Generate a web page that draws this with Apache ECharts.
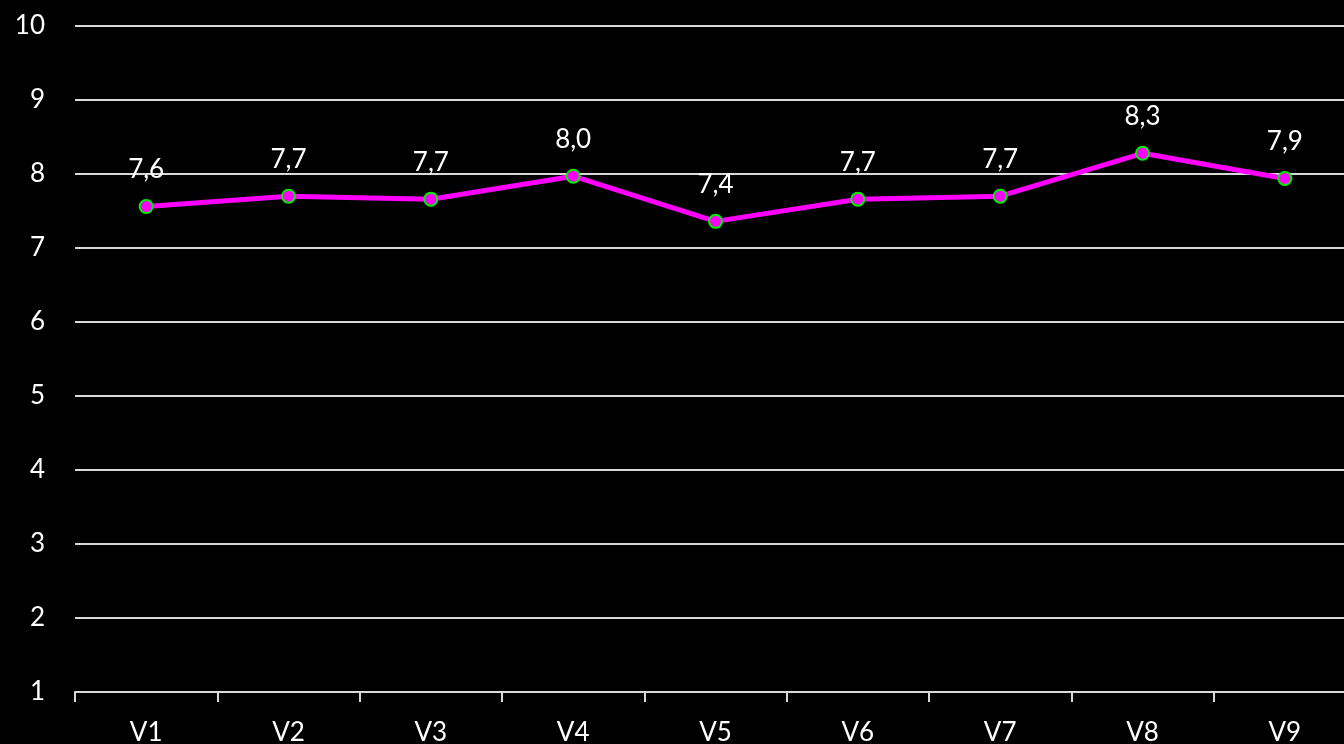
<!DOCTYPE html>
<html>
<head>
<meta charset="utf-8">
<script src="https://cdn.jsdelivr.net/npm/echarts@6/dist/echarts.min.js"></script>
<style>
  html, body { margin: 0; padding: 0; background: #000; }
  #chart { width: 1344px; height: 744px; }
</style>
</head>
<body>
<div id="chart"></div>
<script>
// visits and their scores
var categories = ['V1', 'V2', 'V3', 'V4', 'V5', 'V6', 'V7', 'V8', 'V9'];
var scores = [7.56, 7.70, 7.66, 7.97, 7.36, 7.66, 7.70, 8.28, 7.94];

var chart = echarts.init(document.getElementById('chart'));

var option = {
  backgroundColor: '#000',
  textStyle: { fontFamily: 'Lato, "Open Sans", sans-serif' },
  grid: {
    left: 75,
    width: 1281, // plot runs slightly past the right edge
    top: 26,
    bottom: 52,
    containLabel: false,
    outerBoundsMode: 'none'
  },
  xAxis: {
    type: 'category',
    data: categories,
    boundaryGap: true,
    axisLine: { lineStyle: { color: '#d9d9d9', width: 2 } },
    axisTick: { show: true, length: 10, lineStyle: { color: '#d9d9d9', width: 2 } },
    axisLabel: { color: '#fff', fontSize: 26, margin: 28 }
  },
  yAxis: {
    type: 'value',
    min: 1,
    max: 10,
    interval: 1,
    axisLine: { show: false },
    axisTick: { show: false },
    axisLabel: { color: '#fff', fontSize: 26, margin: 30 },
    splitLine: { lineStyle: { color: '#d9d9d9', width: 2 } }
  },
  series: [{
    type: 'line',
    data: scores,
    symbol: 'circle',
    symbolSize: 13,
    lineStyle: { color: '#ff00ff', width: 5 },
    itemStyle: { color: '#ff00ff', borderColor: '#00ee00', borderWidth: 2 },
    label: {
      show: true,
      position: 'top',
      distance: 16,
      color: '#fff',
      fontSize: 26,
      formatter: function (p) {
        return p.value.toFixed(1).replace('.', ',');
      }
    },
    animation: false
  }]
};

chart.setOption(option);
</script>
</body>
</html>
